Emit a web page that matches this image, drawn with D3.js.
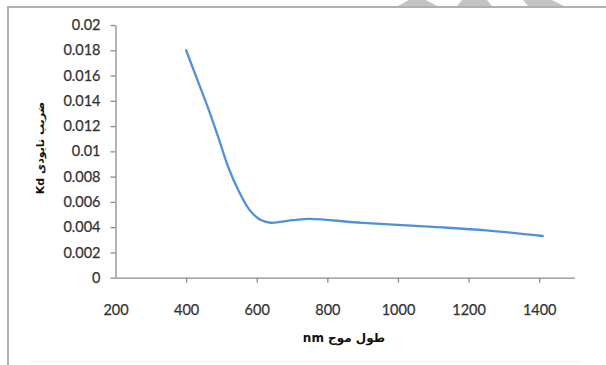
<!DOCTYPE html>
<html>
<head>
<meta charset="utf-8">
<script src="https://cdn.jsdelivr.net/npm/d3@7/dist/d3.min.js"></script>
<style>
  html, body { margin: 0; padding: 0; background: #fff; }
  svg { display: block; }
</style>
</head>
<body>
<svg id="chart" width="606" height="365"></svg>
<script>
// Wavelength (nm) and attenuation coefficient Kd
const wavelengths = [400, 430, 460, 490, 520, 550, 580, 610, 640, 700, 750, 900, 1100, 1250, 1410];
const kdValues    = [0.018, 0.0158, 0.0136, 0.0112, 0.0087, 0.0068, 0.00535, 0.00458, 0.00435, 0.00455, 0.00465, 0.00434, 0.00402, 0.00375, 0.0033];

// Axis ticks
const xTicks = [200, 400, 600, 800, 1000, 1200, 1400];
const yTicks = [0, 0.002, 0.004, 0.006, 0.008, 0.01, 0.012, 0.014, 0.016, 0.018, 0.02];
const yTickLabels = ["0", "0.002", "0.004", "0.006", "0.008", "0.01", "0.012", "0.014", "0.016", "0.018", "0.02"];

const xTitle = "nm طول موج";
const yTitle = "Kd ضریب نابودی";

const svg = d3.select("#chart");

// page frame
svg.append("line").attr("x1", 8).attr("x2", 606).attr("y1", 7).attr("y2", 7)
  .attr("stroke", "#b0b0b0").attr("stroke-width", 2);
svg.append("line").attr("x1", 8).attr("x2", 8).attr("y1", 6).attr("y2", 365)
  .attr("stroke", "#b0b0b0").attr("stroke-width", 2);
svg.append("line").attr("x1", 30).attr("x2", 580).attr("y1", 361.5).attr("y2", 361.5)
  .attr("stroke", "#f0f0f0").attr("stroke-width", 1);

// faded shapes at the top edge
const topShapes = [
  [[409, 0], [426, 0], [437, 6], [398, 6]],
  [[462, 0], [487, 0], [492, 6], [457, 6]],
  [[523, 0], [552, 0], [564, 6], [528, 6]]
];
svg.selectAll("polygon.top").data(topShapes).join("polygon")
  .attr("class", "top")
  .attr("points", d => d.map(p => p.join(",")).join(" "))
  .attr("fill", "#c4c4c4");

const x = d3.scaleLinear().domain([200, 1500]).range([115.5, 574.5]);
const y = d3.scaleLinear().domain([0, 0.02]).range([277.7, 25]);

const axisColor = "#8c8c8c";
const labelFont = "Lato, 'Open Sans', sans-serif";

// y axis
const yAxis = svg.append("g")
  .attr("transform", `translate(${x(200)},0)`)
  .call(d3.axisLeft(y).tickValues(yTicks)
    .tickFormat((d, i) => yTickLabels[i]).tickSize(5).tickPadding(10).tickSizeOuter(0));
yAxis.select(".domain").attr("stroke", axisColor).attr("stroke-width", 1.3);
yAxis.selectAll(".tick line").attr("stroke", axisColor).attr("stroke-width", 1.3);
yAxis.selectAll(".tick text").attr("fill", "#333")
  .style("font-family", labelFont).style("font-size", "14.5px")
  .attr("stroke", "#333").attr("stroke-width", 0.25);

// x axis
const xAxis = svg.append("g")
  .attr("transform", `translate(0,${y(0)})`)
  .call(d3.axisBottom(x).tickValues(xTicks).tickFormat(d3.format("d"))
    .tickSize(5).tickPadding(22).tickSizeOuter(0));
xAxis.select(".domain").attr("stroke", axisColor).attr("stroke-width", 1.3);
xAxis.selectAll(".tick line").attr("stroke", axisColor).attr("stroke-width", 1.3);
xAxis.selectAll(".tick").filter(d => d === 200).select("line").remove();
xAxis.selectAll(".tick text").attr("fill", "#333")
  .style("font-family", labelFont).style("font-size", "14.5px")
  .attr("stroke", "#333").attr("stroke-width", 0.25);

// data line, smoothed
const line = d3.line()
  .x((d, i) => x(wavelengths[i]))
  .y(d => y(d))
  .curve(d3.curveCatmullRom.alpha(0.5));

svg.append("path")
  .datum(kdValues)
  .attr("d", line)
  .attr("fill", "none")
  .attr("stroke", "#5092da")
  .attr("stroke-width", 2.3)
  .attr("stroke-linecap", "round");

// axis titles
svg.append("text")
  .attr("x", 344).attr("y", 342)
  .attr("text-anchor", "middle")
  .style("font-family", "'DejaVu Sans', sans-serif")
  .style("font-weight", "bold").style("font-size", "12px")
  .attr("fill", "#111")
  .text(xTitle);

svg.append("text")
  .attr("transform", "translate(44,148) rotate(-90)")
  .attr("text-anchor", "middle")
  .style("font-family", "'DejaVu Sans', sans-serif")
  .style("font-weight", "bold").style("font-size", "11px")
  .attr("fill", "#111")
  .text(yTitle);
</script>
</body>
</html>
